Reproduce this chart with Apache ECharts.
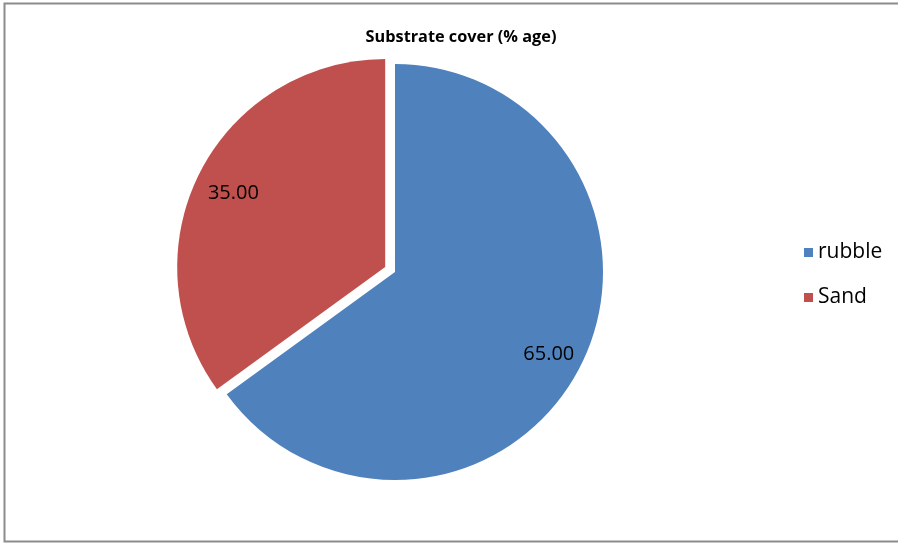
<!DOCTYPE html>
<html>
<head>
<meta charset="utf-8">
<script src="https://cdn.jsdelivr.net/npm/echarts@6/dist/echarts.min.js"></script>
<style>
html,body{margin:0;padding:0;background:#fff;}
#c{width:898px;height:544px;}
</style>
</head>
<body>
<div id="c"></div>
<script>
const titleText = 'Substrate cover (% age)';
const categories = ['rubble', 'Sand'];
const values = [65.00, 35.00];
const exploded = ['Sand'];

const colors = ['#4F81BD', '#C0504D'];
const chart = echarts.init(document.getElementById('c'), null, {renderer: 'canvas'});
const cx = 395, cy = 272, R = 208;
const data = categories.map((n, i) => ({
  name: n, value: values[i], selected: exploded.indexOf(n) >= 0
}));
chart.setOption({
  animation: false,
  color: colors,
  title: {
    text: titleText, left: 456, top: 24, textAlign: 'center',
    textStyle: {fontFamily: 'Open Sans', fontWeight: 'bold', fontSize: 16.3, color: '#000'}
  },
  legend: {
    orient: 'vertical', left: 799, top: 237,
    itemWidth: 9, itemHeight: 9, itemGap: 24,
    icon: 'rect',
    data: categories,
    selectedMode: false,
    textStyle: {fontFamily: 'Open Sans', fontSize: 21, color: '#000', padding: [0, 0, 0, 0]}
  },
  graphic: [{
    type: 'rect', silent: true,
    shape: {x: 4.5, y: 3.5, width: 900, height: 538},
    style: {fill: 'none', stroke: '#8c8c8c', lineWidth: 2}
  }],
  series: [{
    type: 'pie',
    center: [cx, cy], radius: [0, R],
    startAngle: 90, clockwise: true,
    selectedMode: 'multiple', selectedOffset: 11,
    silent: true,
    label: {show: false}, labelLine: {show: false},
    itemStyle: {borderWidth: 0},
    emphasis: {disabled: true},
    data: data
  }, {
    type: 'pie',
    center: [cx + 1, cy + 4], radius: [R * 0.62, R],
    startAngle: 90, clockwise: true,
    selectedMode: 'multiple', selectedOffset: 11,
    silent: true,
    itemStyle: {color: 'rgba(0,0,0,0)', borderWidth: 0},
    label: {
      show: true, position: 'inside',
      formatter: p => p.value.toFixed(2),
      fontFamily: 'Open Sans', fontSize: 20, color: '#000'
    },
    labelLine: {show: false},
    emphasis: {disabled: true},
    legendHoverLink: false,
    data: data
  }]
});
</script>
</body>
</html>
